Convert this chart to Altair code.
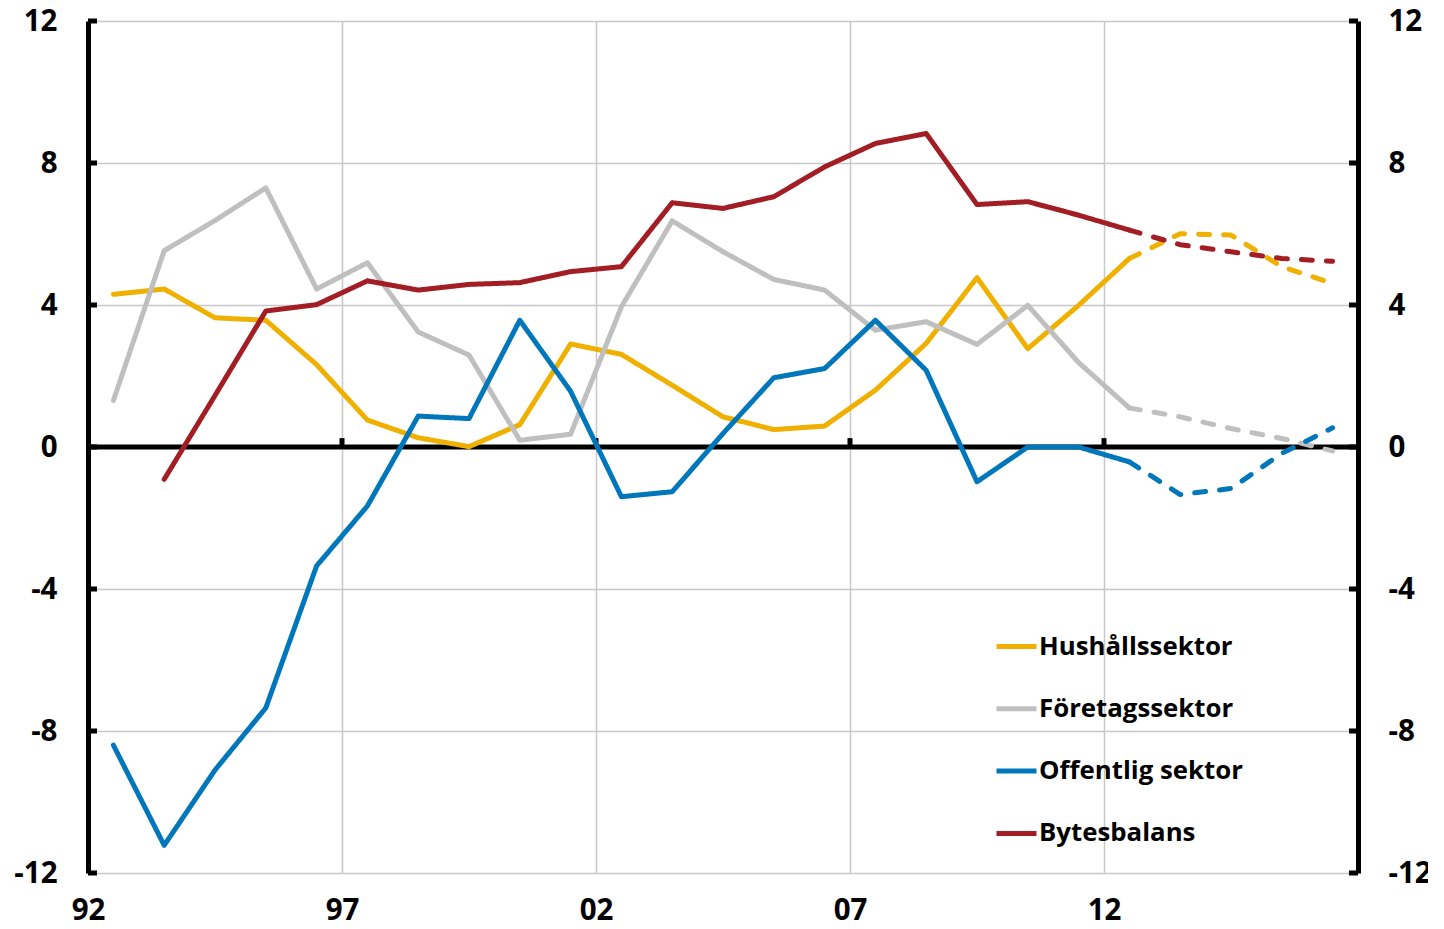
import altair as alt
import pandas as pd

# ---- data ----
years = list(range(1992, 2017))
series_names = ["Hushållssektor", "Företagssektor", "Offentlig sektor", "Bytesbalans"]
series_colors = ["#F0B000", "#BFBFBF", "#0077BB", "#A21D24"]

hushall = [4.30, 4.45, 3.64, 3.57, 2.32, 0.76, 0.26, 0.01, 0.63, 2.90, 2.61, 1.74, 0.85,
           0.49, 0.59, 1.60, 2.92, 4.77, 2.77, 3.99, 5.31, 6.01, 5.97, 5.08, 4.61]
foretag = [1.31, 5.53, 6.38, 7.30, 4.45, 5.19, 3.24, 2.59, 0.19, 0.36, 3.95, 6.37, 5.50,
           4.72, 4.42, 3.29, 3.53, 2.89, 3.99, 2.38, 1.10, 0.85, 0.52, 0.24, -0.11]
offentlig = [-8.40, -11.22, -9.10, -7.35, -3.35, -1.66, 0.87, 0.80, 3.57, 1.57, -1.40, -1.26, 0.38,
             1.95, 2.21, 3.57, 2.16, -0.98, 0.00, 0.00, -0.42, -1.34, -1.17, -0.18, 0.54]
bytesbalans = [None, -0.91, 1.45, 3.83, 4.01, 4.68, 4.42, 4.58, 4.63, 4.94, 5.08, 6.88, 6.72,
               7.05, 7.89, 8.55, 8.83, 6.83, 6.91, 6.53, 6.11, 5.70, 5.50, 5.31, 5.23]

forecast_from = 2012
x_ticks = [1992, 1997, 2002, 2007, 2012]
y_ticks = [-12, -8, -4, 0, 4, 8, 12]

# ---- long table ----
rows = []
for name, vals in zip(series_names, [hushall, foretag, offentlig, bytesbalans]):
    for yr, v in zip(years, vals):
        if v is None:
            continue
        if yr <= forecast_from:
            rows.append({"year": yr + 0.5, "value": v, "series": name, "part": "utfall"})
        if yr >= forecast_from:
            rows.append({"year": yr + 0.5, "value": v, "series": name, "part": "prognos"})
df = pd.DataFrame(rows)
ytick_df = pd.DataFrame({"v": y_ticks})
xtick_df = pd.DataFrame({"t": x_ticks[1:], "lo": [0] * 4, "hi": [0.25] * 4})
zero_df = pd.DataFrame({"z": [0]})

FONT = "Open Sans"
LBL = 29.5
x_scale = alt.Scale(domain=[1992, 2017], nice=False, zero=False)
y_scale = alt.Scale(domain=[-12, 12], nice=False, zero=False)

x_axis = alt.Axis(values=x_ticks, labelExpr="substring(toString(datum.value), 2, 4)",
                  grid=True, gridColor="#C8C8C8", gridWidth=1.5, domain=False, ticks=False,
                  labelFont=FONT, labelFontWeight="bold", labelFontSize=LBL, labelColor="black",
                  labelPadding=23, labelFlush=False, title=None)

left_axis = alt.Axis(values=y_ticks, labelExpr="'' + datum.value",
                     grid=True, gridColor="#C8C8C8", gridWidth=1.5,
                     domain=True, domainColor="black", domainWidth=5, ticks=False,
                     labelFont=FONT, labelFontWeight="bold", labelFontSize=LBL, labelColor="black",
                     labelPadding=31, labelFlush=False, title=None, orient="left")
right_axis = alt.Axis(values=y_ticks, labelExpr="'' + datum.value", grid=False,
                      domain=True, domainColor="black", domainWidth=5, ticks=False,
                      labelFont=FONT, labelFontWeight="bold", labelFontSize=LBL, labelColor="black",
                      labelPadding=30, labelFlush=False, title=None, orient="right")

W, H = 1270, 852

zero_line = alt.Chart(zero_df).mark_rule(color="black", strokeWidth=5).encode(
    y=alt.Y("z:Q", scale=y_scale, axis=None),
    x=alt.value(0), x2=alt.value(W),
)

x_tick_marks = alt.Chart(xtick_df).mark_rule(color="black", strokeWidth=5).encode(
    x=alt.X("t:Q", scale=x_scale, axis=x_axis),
    y=alt.Y("lo:Q", scale=y_scale, axis=None),
    y2="hi:Q",
)

left_ticks = alt.Chart(ytick_df).mark_rule(color="black", strokeWidth=5).encode(
    y=alt.Y("v:Q", scale=y_scale, axis=None),
    x=alt.value(0), x2=alt.value(9),
)

right_ticks = alt.Chart(ytick_df).mark_rule(color="black", strokeWidth=5).encode(
    y=alt.Y("v:Q", scale=y_scale, axis=right_axis),
    x=alt.value(W - 9), x2=alt.value(W),
)

lines = alt.Chart(df).mark_line(strokeWidth=5, strokeCap="round", strokeJoin="round").encode(
    x=alt.X("year:Q", scale=x_scale, axis=x_axis),
    y=alt.Y("value:Q", scale=y_scale, axis=left_axis),
    color=alt.Color("series:N", scale=alt.Scale(domain=series_names, range=series_colors),
                    sort=series_names,
                    legend=alt.Legend(orient="none", legendX=906, legendY=603, title=None,
                                      symbolType="stroke", symbolSize=1600, symbolStrokeWidth=5,
                                      labelFont=FONT, labelFontWeight="bold", labelFontSize=25.8,
                                      labelColor="black", rowPadding=26.3, labelOffset=0,
                                      labelLimit=400)),
    strokeDash=alt.StrokeDash("part:N", scale=alt.Scale(domain=["utfall", "prognos"],
                                                        range=[[1, 0], [11, 14]]), legend=None),
    detail="series:N",
)

chart = alt.layer(zero_line, x_tick_marks, left_ticks, lines, right_ticks).resolve_axis(
    y="independent"
).properties(
    width=W, height=H,
    padding={"left": 80, "top": 13, "right": 70, "bottom": 48},
    autosize=alt.AutoSizeParams(type="none"),
).configure_view(stroke=None).configure(background="white")

chart.save("out.html", embed_options={"renderer": "svg", "actions": False})
